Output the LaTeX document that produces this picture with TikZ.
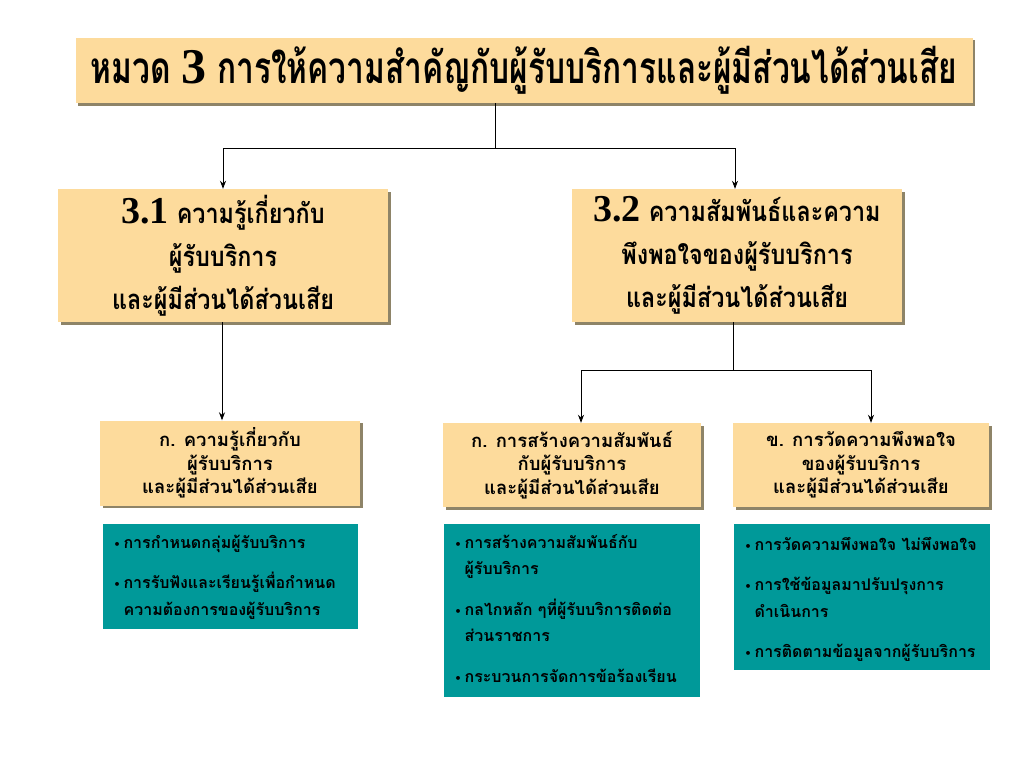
\documentclass[tikz,border=0pt]{standalone}
\usepackage{fontspec}
\usetikzlibrary{arrows.meta,shadows}
\newfontfamily\thaicond[Script=Thai,FakeStretch=0.72]{Loma}
\newfontfamily\thaimid[Script=Thai,FakeStretch=0.85]{Loma}
\newfontfamily\thai[Script=Thai]{Loma}
\newfontfamily\serifnum{Liberation Serif}
\newfontfamily\dejavu{DejaVu Sans}
\newcommand{\blt}{{\dejavu\fontsize{11}{11}\selectfont •}}
\definecolor{tan}{HTML}{FDDB9C}
\definecolor{shade}{HTML}{8E8468}
\definecolor{teal}{HTML}{009999}
\tikzset{
  tanbox/.style={fill=tan, draw=none, inner sep=0pt,
    drop shadow={shadow xshift=2.5pt, shadow yshift=-2.5pt, fill=shade, opacity=1}},
  tealbox/.style={fill=teal, draw=none, inner sep=0pt},
  conn/.style={draw=black, line width=0.8pt},
  arr/.style={conn, -{Stealth[length=8pt,width=6pt]}},
}
\begin{document}
\begin{tikzpicture}[x=1pt,y=-1pt]
\useasboundingbox (0,0) rectangle (1024,768);
% title
\node[tanbox, minimum width=897pt, minimum height=65pt] (title) at (524,70.5) {};
\node[anchor=center] (titletext) at ([yshift=0pt]title.center)
 {\thaicond\bfseries\fontsize{44}{48}\selectfont หมวด {\serifnum\bfseries\fontsize{50}{50}\selectfont 3} การให้ความสำคัญกับผู้รับบริการและผู้มีส่วนได้ส่วนเสีย};
% level 2
\node[tanbox, minimum width=330pt, minimum height=133pt] (b31) at (223,255.5) {};
\node[align=center, font=\thaimid\bfseries\fontsize{27.5}{43}\selectfont] (b31t) at (b31.center)
 {{\serifnum\bfseries\fontsize{38}{38}\selectfont 3.1} ความรู้เกี่ยวกับ\\ผู้รับบริการ\\และผู้มีส่วนได้ส่วนเสีย};
\node[tanbox, minimum width=330pt, minimum height=133pt] (b32) at (737,255.5) {};
\node[align=center, font=\thaimid\bfseries\fontsize{27.5}{43}\selectfont] (b32t) at (b32.center)
 {{\serifnum\bfseries\fontsize{38}{38}\selectfont 3.2} ความสัมพันธ์และความ\\พึงพอใจของผู้รับบริการ\\และผู้มีส่วนได้ส่วนเสีย};
% level 3
\node[tanbox, minimum width=260pt, minimum height=85pt] (ka1) at (230,463) {};
\node[align=center, font=\thai\bfseries\fontsize{18.5}{23.5}\selectfont] (ka1t) at (ka1.center)
 {ก. ความรู้เกี่ยวกับ\\ผู้รับบริการ\\และผู้มีส่วนได้ส่วนเสีย};
\node[tanbox, minimum width=258pt, minimum height=84pt] (ka2) at (572,465) {};
\node[align=center, font=\thai\bfseries\fontsize{18.5}{23.5}\selectfont] (ka2t) at (ka2.center)
 {ก. การสร้างความสัมพันธ์\\กับผู้รับบริการ\\และผู้มีส่วนได้ส่วนเสีย};
\node[tanbox, minimum width=256pt, minimum height=84pt] (kh) at (861,465) {};
\node[align=center, font=\thai\bfseries\fontsize{18.5}{23.5}\selectfont] (kht) at (kh.center)
 {ข. การวัดความพึงพอใจ\\ของผู้รับบริการ\\และผู้มีส่วนได้ส่วนเสีย};
% teal boxes
\node[tealbox, minimum width=255pt, minimum height=105pt] (t1) at (230.5,576.5) {};
\node[anchor=north west, font=\thai\bfseries\fontsize{16}{26.5}\selectfont] (t1t) at (110,526)
 {\begin{tabular}{@{}l@{\hspace{3pt}}l@{}}
 \blt & การกำหนดกลุ่มผู้รับบริการ\\[14pt]
 \blt & การรับฟังและเรียนรู้เพื่อกำหนด\\
     & ความต้องการของผู้รับบริการ
 \end{tabular}};
\node[tealbox, minimum width=256pt, minimum height=173pt] (t2) at (572,610.5) {};
\node[anchor=north west, font=\thai\bfseries\fontsize{16}{26.5}\selectfont] (t2t) at (451,526)
 {\begin{tabular}{@{}l@{\hspace{3pt}}l@{}}
 \blt & การสร้างความสัมพันธ์กับ\\
     & ผู้รับบริการ\\[14pt]
 \blt & กลไกหลัก ๆที่ผู้รับบริการติดต่อ\\
     & ส่วนราชการ\\[14pt]
 \blt & กระบวนการจัดการข้อร้องเรียน
 \end{tabular}};
\node[tealbox, minimum width=256pt, minimum height=146pt] (t3) at (862,597) {};
\node[anchor=north west, font=\thai\bfseries\fontsize{16}{26.5}\selectfont] (t3t) at (741,528)
 {\begin{tabular}{@{}l@{\hspace{3pt}}l@{}}
 \blt & การวัดความพึงพอใจ ไม่พึงพอใจ\\[14pt]
 \blt & การใช้ข้อมูลมาปรับปรุงการ\\
     & ดำเนินการ\\[14pt]
 \blt & การติดตามข้อมูลจากผู้รับบริการ
 \end{tabular}};
% connectors
\coordinate (j1) at (495,148);
\draw[conn] (j1 |- title.south) -- (j1);
\draw[arr] (j1) -| (b31.north);
\draw[arr] (j1) -| ([xshift=-2pt]b32.north);
\draw[arr] ([xshift=-1pt]b31.south) -- ([xshift=-1pt]b31.south |- ka1.north);
\coordinate (j2) at (733,370);
\draw[conn] (j2 |- b32.south) -- (j2);
\draw[arr] (j2) -| ([xshift=9pt]ka2.north);
\draw[arr] (j2) -| ([xshift=10pt]kh.north);
\end{tikzpicture}
\end{document}
